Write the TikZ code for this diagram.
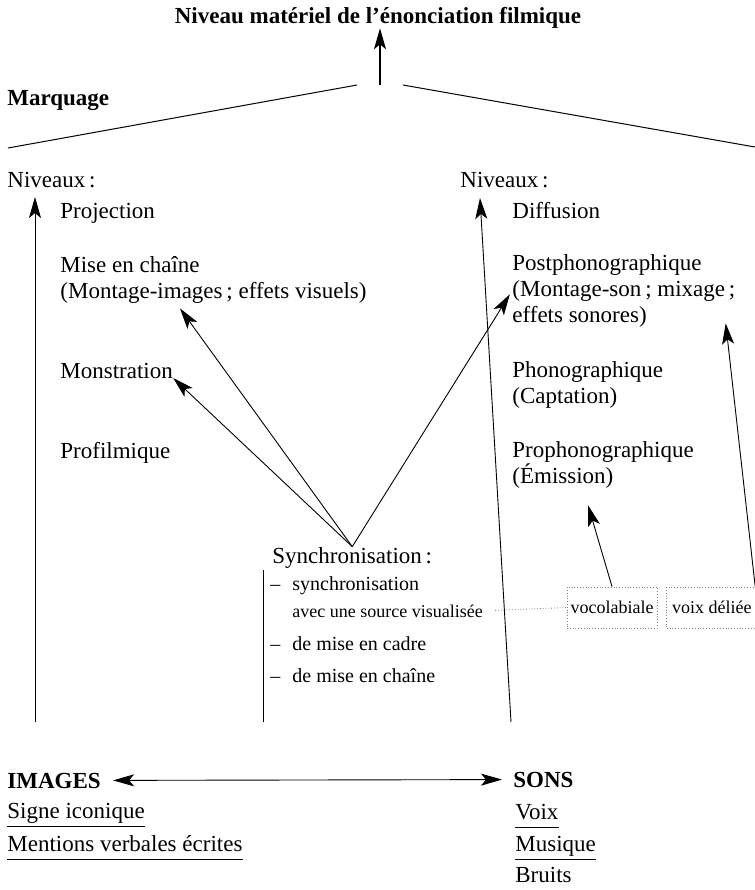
\documentclass[tikz,border=0pt]{standalone}
\usepackage{fontspec}
\setmainfont{Liberation Serif}
\usetikzlibrary{arrows.meta,positioning,calc}

\newcommand{\tiret}{\makebox[11pt][l]{–}}

\begin{document}
\begin{tikzpicture}[x=0.5pt, y=-0.5pt]

    \tikzstyle{texte} = [
        inner sep=0pt,
        anchor=base west,
        align=left,
        font=\fontsize{11.5}{12.8}\selectfont
    ]
    \tikzstyle{gras} = [
        texte,
        font=\fontsize{11.5}{12.8}\selectfont\bfseries
    ]
    \tikzstyle{liste} = [
        texte,
        font=\fontsize{10}{12}\selectfont
    ]
    \tikzstyle{petit} = [
        texte,
        font=\fontsize{9}{11}\selectfont
    ]
    \tikzstyle{boite} = [
        rectangle,
        draw=gray,
        densely dotted,
        %fill=gray!10,
        minimum width=45pt,
        minimum height=20.5pt,
        inner sep=1pt,
        text centered,
        font=\fontsize{9}{11}\selectfont
    ]
    \tikzstyle{ligne} = [
        draw,
        line width=0.5pt
    ]
    \tikzstyle{fleche} = [
        draw,
        line width=0.45pt,
        -{Stealth[length=10.5pt,width=6pt,inset=2.5pt]}
    ]
    \tikzstyle{pointille} = [
        draw=gray,
        densely dotted,
        line width=0.4pt
    ]

    \useasboundingbox (0,0) rectangle (755,890);

    % sommet
    \node [gras, anchor=base] (tit) at (378,23) {Niveau matériel de l’énonciation filmique};
    \coordinate (som) at (380,85);
    \path [fleche, line width=0.9pt] (som) -- (som |- tit.south);

    \node [gras] (mar) at (7,105) {Marquage};
    \coordinate (gau) at (8,148);
    \coordinate (dro) at (755,147);
    \path [ligne] (gau) -- ($(som)+(-23,0)$);
    \path [ligne] ($(som)+(23,0)$) -- (dro);


    % images (base = derniere ligne)
    \node [texte] (niv) at (7,187) {Niveaux\,:};
    \node [texte] (pro) at (60,218) {Projection};
    \node [texte] (mec) at (60,298) {Mise en chaîne\\(Montage-images\,; effets visuels)};
    \node [texte] (mon) at (60,378) {Monstration};
    \node [texte] (pfi) at (60,458) {Profilmique};

    \coordinate (imb) at (35,722);
    \coordinate (imh) at (35,197);
    \path [fleche] (imb) -- (imh);


    % sons
    \node [texte] (nis) at (460,187) {Niveaux\,:};
    \node [texte] (dif) at (512,218) {Diffusion};
    \node [texte] (pos) at (512,322) {Postphonographique\\(Montage-son\,; mixage\,;\\effets sonores)};
    \node [texte] (pho) at (512,403) {Phonographique\\(Captation)};
    \node [texte] (prp) at (512,483) {Prophonographique\\(Émission)};

    \coordinate (sob) at (511,722);
    \coordinate (soh) at (480,198);
    \path [fleche] (sob) -- (soh);


    % synchronisation
    \node [texte] (syn) at (272,563) {Synchronisation\,:};
    \node [liste] (sy1) at (270,590) {\tiret synchronisation};
    \node [petit] (ave) at (292,617) {avec une source visualisée};
    \node [liste] (sy2) at (270,650) {\tiret de mise en cadre};
    \node [liste] (sy3) at (270,682) {\tiret de mise en chaîne};

    \coordinate (bah) at (263,570);
    \coordinate (bab) at (263,722);
    \path [ligne] (bah) -- (bab);

    \path [fleche] (syn.north) -- ($(mec.south west)+(120,5)$);
    \path [fleche] (syn.north) -- (mon.base east);
    \path [fleche, shorten >=2pt] (syn.north) -- (pos.west);

    \node [boite] (voc) at (612,607.5) {vocolabiale};
    \node [boite, right=4.5pt of voc] (vdl) {voix déliée};

    \path [pointille, shorten <=6pt] (ave.east) -- (voc.west);

    \coordinate (emi) at ($(prp.south)+(-15,17)$);
    \path [fleche] (voc.north) -- (emi);
    \path [fleche] ([xshift=-1pt]vdl.north east) -- ($(pos.south east)+(-10,-4)$);


    % bas
    \node [gras] (ima) at (7,788) {IMAGES};
    \node [gras] (son) at (513,787) {SONS};
    \path [draw, line width=0.45pt,
        {Stealth[length=10.5pt,width=6pt,inset=2.5pt]}-{Stealth[length=10.5pt,width=6pt,inset=2.5pt]},
        shorten <=6pt, shorten >=5.5pt] (ima) -- (son);

    \node [texte] (sic) at (7,818) {Signe iconique};
    \node [texte] (mve) at (7,851) {Mentions verbales écrites};
    \node [texte] (voi) at (515,819) {Voix};
    \node [texte] (mus) at (515,851) {Musique};
    \node [texte] (bru) at (515,882) {Bruits};

    \draw [ligne] ($(sic.base west)+(0,8.5)$) -- ($(sic.base east)+(0,8.5)$);
    \draw [ligne] ($(mve.base west)+(0,8.5)$) -- ($(mve.base east)+(0,8.5)$);
    \draw [ligne] ($(voi.base west)+(0,8.5)$) -- ($(voi.base east)+(0,8.5)$);
    \draw [ligne] ($(mus.base west)+(0,8.5)$) -- ($(mus.base east)+(0,8.5)$);

\end{tikzpicture}
\end{document}
